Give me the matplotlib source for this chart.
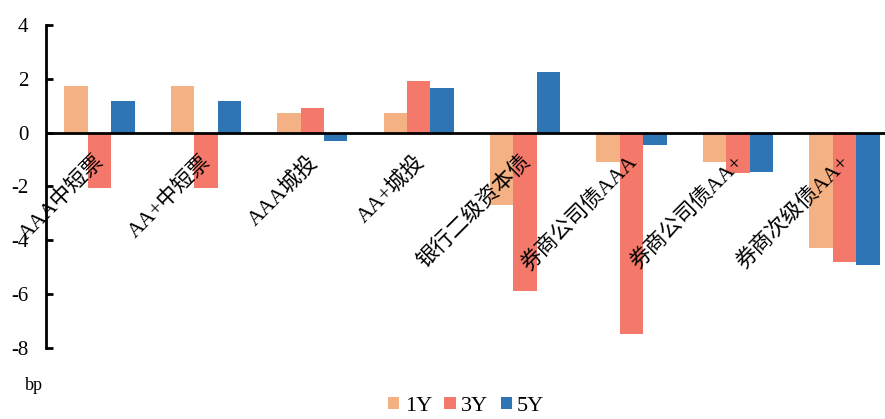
import numpy as np
import matplotlib
matplotlib.use('Agg')
import matplotlib.pyplot as plt
from matplotlib.transforms import offset_copy

plt.rcParams['font.family'] = ['Liberation Serif', 'Noto Sans CJK SC']
plt.rcParams['axes.unicode_minus'] = False

categories = ['AAA中短票', 'AA+中短票', 'AAA城投', 'AA+城投', '银行二级资本债',
              '券商公司债AAA', '券商公司债AA+', '券商次级债AA+']
y1 = [1.72, 1.72, 0.73, 0.73, -2.70, -1.09, -1.09, -4.30]
y3 = [-2.05, -2.05, 0.92, 1.92, -5.88, -7.48, -1.49, -4.80]
y5 = [1.19, 1.18, -0.32, 1.67, 2.26, -0.45, -1.45, -4.92]
series_names = ['1Y', '3Y', '5Y']
colors = ['#F4B183', '#F4796A', '#2E75B6']

fig = plt.figure(figsize=(8.85, 4.19), dpi=100)
ax = fig.add_axes([0.0523, 0.1695, 0.962, 0.771])

x = np.arange(len(categories))
w = 0.22
for k, (vals, name, c) in enumerate(zip([y1, y3, y5], series_names, colors)):
    ax.bar(x + (k - 1) * w, vals, width=w, color=c, label=name, zorder=2)

ax.set_xlim(-0.5, len(categories) - 0.5)
ax.set_ylim(-8, 4)
ax.set_yticks(range(-8, 5, 2))
ax.axhline(0, color='black', lw=2, zorder=3)

for s in ['top', 'right', 'bottom']:
    ax.spines[s].set_visible(False)
ax.spines['left'].set_linewidth(2)
ax.tick_params(axis='y', direction='in', length=5, width=2, labelsize=15, pad=13)
ax.set_xticks([])

# category labels hanging below the zero line, rotated
trans = offset_copy(ax.transData, fig=fig, x=-5, y=-19, units='dots')
for i, cat in enumerate(categories):
    ax.text(i, 0, cat, transform=trans, rotation=45, rotation_mode='anchor',
            ha='right', va='top', fontsize=15.5, zorder=4)

fig.text(0.028, 0.07, 'bp', fontsize=13)
fig.legend(loc='lower center', bbox_to_anchor=(0.527, -0.04), ncol=3, frameon=False,
           fontsize=16, handlelength=0.5, handleheight=0.5, handletextpad=0.25,
           columnspacing=0.55)

fig.savefig('out.png', dpi=100)
